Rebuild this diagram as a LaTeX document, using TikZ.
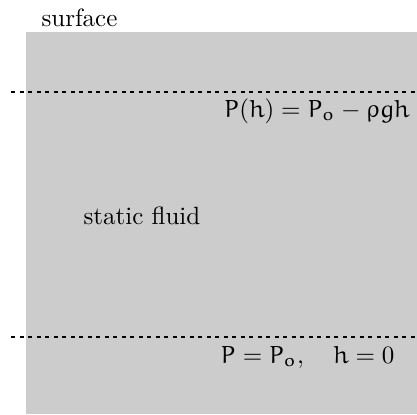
\documentclass[tikz,border=0pt]{standalone}
\DeclareSymbolFont{eulerletters}{U}{eur}{m}{n}
\DeclareMathAlphabet{\mathe}{U}{eur}{m}{n}
\DeclareMathSymbol{\erho}{\mathord}{eulerletters}{"1A}
\begin{document}
\begin{tikzpicture}[x=0.4pt,y=-0.4pt,
  fluid/.style={fill=black!20,draw=none},
  level/.style={line width=0.8pt,dash pattern=on 1.7pt off 1.7pt},
  lbl/.style={inner sep=0pt,font=\normalsize}]
\useasboundingbox (0,0) rectangle (417,414);
\fill[fluid] (26,32) rectangle (417,414);
\node[lbl,anchor=base west] (surf) at (41,26.5) {surface};
\coordinate (l1a) at (11,92);
\coordinate (l1b) at (417,92);
\coordinate (l2a) at (11,337);
\coordinate (l2b) at (417,337);
\draw[level] (l1a) -- (l1b);
\draw[level] (l2a) -- (l2b);
\node[lbl,anchor=base east] (ph) at (410,117) {$\mathe{P}(\mathe{h}) = \mathe{P}_{\mathe{o}} - \erho\mathe{gh}$};
\node[lbl,anchor=base west] (sf) at (83,224) {static fluid};
\node[lbl,anchor=base east] (p0) at (395,363) {$\mathe{P} = \mathe{P}_{\mathe{o}},\quad \mathe{h} = 0$};
\end{tikzpicture}
\end{document}
